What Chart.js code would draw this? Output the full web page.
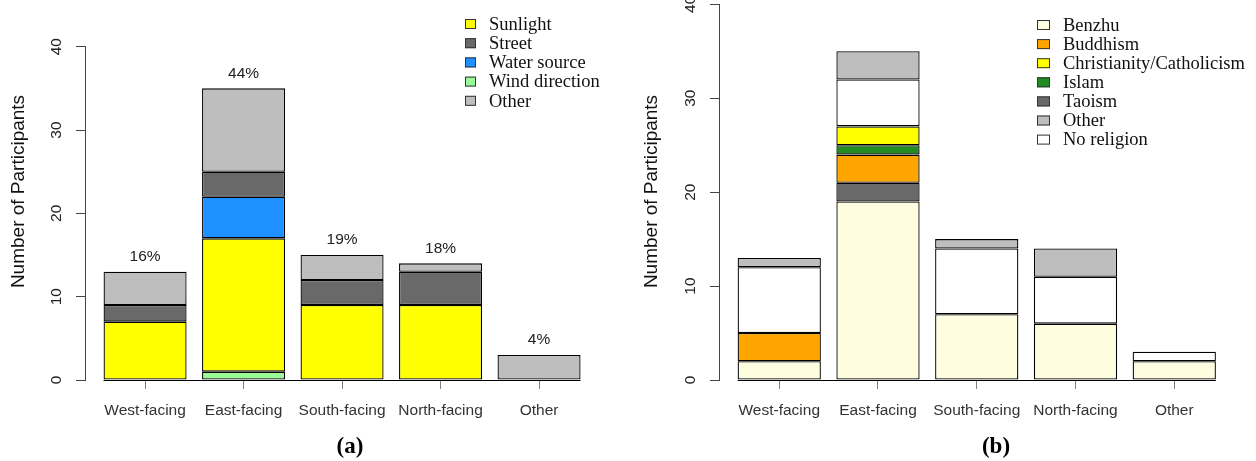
<!DOCTYPE html>
<html><head><meta charset="utf-8">
<script src="https://cdn.jsdelivr.net/npm/chart.js@4"></script>
<style>
html,body{margin:0;padding:0;background:#fff;}
#wrap{position:relative;width:1256px;height:461px;overflow:hidden;background:#fff;}
canvas{position:absolute;top:0;}
#ca{left:0;} #cb{left:620px;}
</style></head><body>
<div id="wrap"><canvas id="ca" width="620" height="461"></canvas><canvas id="cb" width="636" height="461"></canvas></div>
<script>
// ---- data ----
const categories = ['West-facing', 'East-facing', 'South-facing', 'North-facing', 'Other'];
const yTicks = [0, 10, 20, 30, 40];
const yTitle = 'Number of Participants';

// panel (a): stack order bottom -> top
const windDirection = [0, 1, 0, 0, 0];
const sunlight      = [7, 16, 9, 9, 0];
const waterSource   = [0, 5, 0, 0, 0];
const street        = [2, 3, 3, 4, 0];
const otherA        = [4, 10, 3, 1, 3];
const percentLabels = ['16%', '44%', '19%', '18%', '4%'];
const legendA = ['Sunlight', 'Street', 'Water source', 'Wind direction', 'Other'];

// panel (b): stack order bottom -> top
const benzhu       = [2, 19, 7, 6, 2];
const taoism       = [0, 2, 0, 0, 0];
const buddhism     = [3, 3, 0, 0, 0];
const islam        = [0, 1, 0, 0, 0];
const christianity = [0, 2, 0, 0, 0];
const noReligion   = [7, 5, 7, 5, 1];
const otherB       = [1, 3, 1, 3, 0];
const legendB = ['Benzhu', 'Buddhism', 'Christianity/Catholicism', 'Islam', 'Taoism', 'Other', 'No religion'];

const colors = {
  'Sunlight': '#FFFF00', 'Street': '#696969', 'Water source': '#1E90FF',
  'Wind direction': '#98FB98', 'Other': '#BEBEBE',
  'Benzhu': '#FFFDE0', 'Buddhism': '#FFA500', 'Christianity/Catholicism': '#FFFF00',
  'Islam': '#228B22', 'Taoism': '#696969', 'No religion': '#FFFFFF'
};

const SANS = '"Liberation Sans", Arial, sans-serif';
const SERIF = '"Liberation Serif", "Times New Roman", serif';
const BARFRAC = 0.843;

function makeChart(id, p) {
  const datasets = p.stack.map(s => ({
    label: s.label,
    data: s.values.map((v, i) => ({ x: i, y: v === 0 ? null : v })),
    backgroundColor: colors[s.label],
    borderColor: '#000', borderWidth: 1.3, borderSkipped: false,
    barPercentage: BARFRAC, categoryPercentage: 1
  }));
  const totals = categories.map((_, i) => p.stack.reduce((a, s) => a + s.values[i], 0));

  const deco = {
    id: 'deco',
    afterDraw(chart) {
      const ctx = chart.ctx, xs = chart.scales.x, ys = chart.scales.y;
      ctx.save();
      // baseline spanning the bars
      const y0 = Math.round(ys.getPixelForValue(0)) + 0.5;
      ctx.strokeStyle = '#000'; ctx.lineWidth = 1;
      ctx.beginPath();
      ctx.moveTo(xs.getPixelForValue(-BARFRAC / 2), y0);
      ctx.lineTo(xs.getPixelForValue(categories.length - 1 + BARFRAC / 2), y0);
      ctx.stroke();
      // rotated y tick labels
      ctx.fillStyle = '#222';
      ctx.font = '15.5px ' + SANS;
      ctx.textAlign = 'center'; ctx.textBaseline = 'middle';
      yTicks.forEach(v => {
        ctx.save();
        ctx.translate(p.yTickX, ys.getPixelForValue(v));
        ctx.rotate(-Math.PI / 2);
        ctx.fillText(String(v), 0, 0);
        ctx.restore();
      });
      // y title
      ctx.save();
      ctx.font = '19px ' + SANS; ctx.fillStyle = '#111';
      ctx.translate(p.yTitleX, p.yTitleY);
      ctx.rotate(-Math.PI / 2);
      ctx.fillText(yTitle, 0, 0);
      ctx.restore();
      // percentage labels
      if (p.pct) {
        ctx.font = '15.5px ' + SANS; ctx.fillStyle = '#222';
        p.pct.forEach((t, i) => {
          ctx.fillText(t, xs.getPixelForValue(i), ys.getPixelForValue(totals[i]) - 15);
        });
      }
      // legend
      ctx.font = '18.5px ' + SERIF; ctx.textAlign = 'left';
      p.legend.forEach((lab, k) => {
        const cy = p.legY + k * p.legDy;
        ctx.fillStyle = colors[lab];
        ctx.fillRect(p.legSqX, cy - 5, p.legSqW, 10);
        ctx.strokeStyle = '#333'; ctx.lineWidth = 1;
        ctx.strokeRect(p.legSqX + 0.5, cy - 4.5, p.legSqW - 1, 9);
        ctx.fillStyle = '#111';
        ctx.fillText(lab, p.legTextX, cy + 1);
      });
      // panel title
      ctx.font = 'bold 23px ' + SERIF; ctx.textAlign = 'center'; ctx.fillStyle = '#000';
      ctx.fillText(p.title, p.titleX, p.titleY);
      ctx.restore();
    }
  };

  return new Chart(document.getElementById(id), {
    type: 'bar',
    data: { datasets },
    plugins: [deco],
    options: {
      responsive: false, animation: false,
      layout: { padding: { left: 0, top: p.top, right: p.right, bottom: 0 } },
      plugins: { legend: { display: false }, tooltip: { enabled: false } },
      scales: {
        x: {
          type: 'linear', stacked: true, min: -0.61, max: categories.length - 1 + 0.69,
          offset: false,
          afterBuildTicks: s => { s.ticks = categories.map((_, i) => ({ value: i })); },
          afterFit: s => { s.height = 81; },
          border: { display: false },
          grid: { offset: false, drawOnChartArea: false, drawTicks: true, tickLength: 9, color: '#808080', lineWidth: 1 },
          ticks: { callback: v => categories[v], autoSkip: false, maxRotation: 0, minRotation: 0,
                   padding: 12, color: '#333', font: { family: SANS, size: 15.5 } }
        },
        y: {
          type: 'linear', stacked: true, min: 0, max: 40,
          afterBuildTicks: s => { s.ticks = yTicks.map(v => ({ value: v })); },
          afterFit: s => { s.width = p.axisLeft; },
          border: { display: true, color: '#444', width: 1 },
          grid: { drawOnChartArea: false, drawTicks: true, tickLength: 9, color: '#444' },
          ticks: { display: false }
        }
      }
    }
  });
}

makeChart('ca', {
  stack: [
    { label: 'Wind direction', values: windDirection },
    { label: 'Sunlight', values: sunlight },
    { label: 'Water source', values: waterSource },
    { label: 'Street', values: street },
    { label: 'Other', values: otherA }
  ],
  pct: percentLabels, legend: legendA,
  axisLeft: 85, top: 46.7, right: 13,
  yTickX: 57, yTitleX: 19, yTitleY: 191.5,
  legSqX: 465, legSqW: 11, legTextX: 489, legY: 24, legDy: 19.2,
  title: '(a)', titleX: 350, titleY: 447
});

makeChart('cb', {
  stack: [
    { label: 'Benzhu', values: benzhu },
    { label: 'Taoism', values: taoism },
    { label: 'Buddhism', values: buddhism },
    { label: 'Islam', values: islam },
    { label: 'Christianity/Catholicism', values: christianity },
    { label: 'No religion', values: noReligion },
    { label: 'Other', values: otherB }
  ],
  pct: null, legend: legendB,
  axisLeft: 99, top: 4.3, right: 13.6,
  yTickX: 71, yTitleX: 32, yTitleY: 191.5,
  legSqX: 417, legSqW: 13, legTextX: 443, legY: 25, legDy: 19.1,
  title: '(b)', titleX: 376, titleY: 447
});
</script>
</body></html>
